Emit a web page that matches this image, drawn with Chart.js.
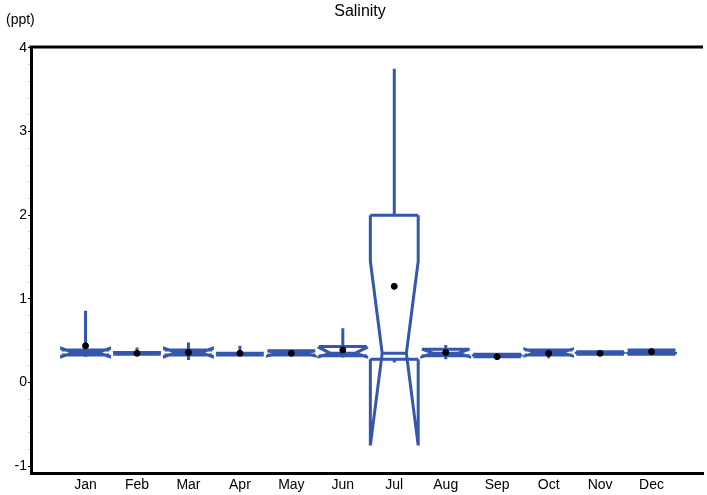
<!DOCTYPE html>
<html>
<head>
<meta charset="utf-8">
<script src="https://cdn.jsdelivr.net/npm/chart.js@4"></script>
<style>
  html, body { margin: 0; padding: 0; background: #fff; }
  #wrap { width: 707px; height: 495px; }
</style>
</head>
<body>
<div id="wrap"><canvas id="salinityChart" width="707" height="495"></canvas></div>
<script>
const months = ['Jan', 'Feb', 'Mar', 'Apr', 'May', 'Jun', 'Jul', 'Aug', 'Sep', 'Oct', 'Nov', 'Dec'];

// box statistics per month (ppt)
const q1 = [0.33, 0.34, 0.33, 0.33, 0.33, 0.32, 0.28, 0.32, 0.31, 0.33, 0.34, 0.34];
const median = [0.36, 0.35, 0.36, 0.34, 0.35, 0.35, 0.35, 0.35, 0.32, 0.36, 0.35, 0.37];
const q3 = [0.39, 0.36, 0.39, 0.35, 0.38, 0.43, 2.00, 0.40, 0.34, 0.39, 0.37, 0.39];
const notchLo = [0.31, 0.34, 0.31, 0.33, 0.32, 0.31, -0.75, 0.31, 0.31, 0.32, 0.34, 0.35];
const notchHi = [0.41, 0.36, 0.41, 0.35, 0.38, 0.42, 1.45, 0.40, 0.33, 0.40, 0.36, 0.39];
const whiskerLo = [0.31, 0.33, 0.27, 0.32, 0.32, 0.30, 0.24, 0.28, 0.30, 0.29, 0.33, 0.33];
const whiskerHi = [0.86, 0.42, 0.48, 0.44, 0.39, 0.65, 3.75, 0.45, 0.35, 0.40, 0.37, 0.41];
const mean = [0.44, 0.35, 0.36, 0.35, 0.35, 0.39, 1.15, 0.36, 0.31, 0.35, 0.35, 0.37];

const boxColor = '#3556ad';
const font = '"Liberation Sans", Arial, sans-serif';

const boxPlugin = {
  id: 'boxes',
  beforeDatasetsDraw(chart) {
    const { ctx, scales: { x, y } } = chart;
    const half = 0.465, waist = 0.235;
    ctx.save();
    ctx.strokeStyle = boxColor;
    ctx.lineWidth = 3;
    ctx.lineJoin = 'miter';
    months.forEach((m, i) => {
      const c = i + 1;
      const L = x.getPixelForValue(c - half), R = x.getPixelForValue(c + half);
      const wL = x.getPixelForValue(c - waist), wR = x.getPixelForValue(c + waist);
      const xc = x.getPixelForValue(c);
      const yQ1 = y.getPixelForValue(q1[i]), yQ3 = y.getPixelForValue(q3[i]);
      const yMed = y.getPixelForValue(median[i]);
      const yNl = y.getPixelForValue(notchLo[i]), yNh = y.getPixelForValue(notchHi[i]);

      ctx.beginPath();
      // whiskers
      ctx.moveTo(xc, y.getPixelForValue(whiskerHi[i]));
      ctx.lineTo(xc, yQ3);
      ctx.moveTo(xc, yQ1);
      ctx.lineTo(xc, y.getPixelForValue(whiskerLo[i]));
      ctx.stroke();

      ctx.beginPath();
      // notched sides, extended to the hinges
      [[L, wL], [R, wR]].forEach(([s, w]) => {
        ctx.moveTo(s, yQ3);
        ctx.lineTo(s, yNh);
        ctx.lineTo(w, yMed);
        ctx.lineTo(s, yNl);
        ctx.lineTo(s, yQ1);
      });
      // hinges and median
      ctx.moveTo(L, yQ3); ctx.lineTo(R, yQ3);
      ctx.moveTo(L, yQ1); ctx.lineTo(R, yQ1);
      ctx.moveTo(wL, yMed); ctx.lineTo(wR, yMed);
      ctx.stroke();
    });
    ctx.restore();
  },
  afterDraw(chart) {
    const { ctx, chartArea } = chart;
    ctx.save();
    ctx.strokeStyle = '#000';
    ctx.lineWidth = 3;
    ctx.beginPath();
    ctx.moveTo(chartArea.left - 1.5, chartArea.top);
    ctx.lineTo(chartArea.right, chartArea.top);
    ctx.stroke();
    ctx.fillStyle = '#000';
    ctx.textBaseline = 'middle';
    ctx.font = '16px ' + font;
    ctx.textAlign = 'center';
    ctx.fillText('Salinity', 360, 12);
    ctx.font = '14px ' + font;
    ctx.textAlign = 'left';
    ctx.fillText('(ppt)', 6, 20);
    ctx.restore();
  }
};

const isMajor = (v) => Math.abs(v - Math.round(v)) < 1e-6;

new Chart(document.getElementById('salinityChart'), {
  type: 'scatter',
  data: {
    datasets: [{
      label: 'Mean',
      data: mean.map((v, i) => ({ x: i + 1, y: v })),
      backgroundColor: '#000',
      borderColor: '#000',
      pointRadius: 3,
      pointHoverRadius: 3
    }]
  },
  options: {
    responsive: false,
    animation: false,
    devicePixelRatio: 1,
    layout: { padding: { top: 47, right: 0, bottom: 0, left: 0 } },
    plugins: {
      legend: { display: false },
      title: { display: false },
      tooltip: { enabled: false }
    },
    scales: {
      x: {
        type: 'linear',
        min: -0.06,
        max: 13,
        afterBuildTicks: (axis) => { axis.ticks = months.map((m, i) => ({ value: i + 1 })); },
        afterFit: (axis) => { axis.height = 22; },
        grid: { drawOnChartArea: false, drawTicks: false },
        border: { display: true, color: '#000', width: 3 },
        ticks: {
          color: '#000',
          font: { family: font, size: 14 },
          padding: 4,
          maxRotation: 0,
          autoSkip: false,
          callback: (v) => months[v - 1]
        }
      },
      y: {
        min: -1.08,
        max: 4.01,
        afterBuildTicks: (axis) => {
          const t = [];
          for (let k = -5; k <= 20; k++) t.push({ value: k / 5 });
          axis.ticks = t;
        },
        afterFit: (axis) => { axis.width = 31; },
        grid: {
          drawOnChartArea: false,
          tickLength: 3,
          lineWidth: 1,
          color: (ctx) => ctx.tick && isMajor(ctx.tick.value) ? '#000' : '#d4d4d4'
        },
        border: { display: true, color: '#000', width: 3 },
        ticks: {
          color: '#000',
          font: { family: font, size: 14 },
          padding: 1,
          autoSkip: false,
          callback: (v) => isMajor(v) ? String(Math.round(v)) : ''
        }
      }
    }
  },
  plugins: [boxPlugin]
});
</script>
</body>
</html>
